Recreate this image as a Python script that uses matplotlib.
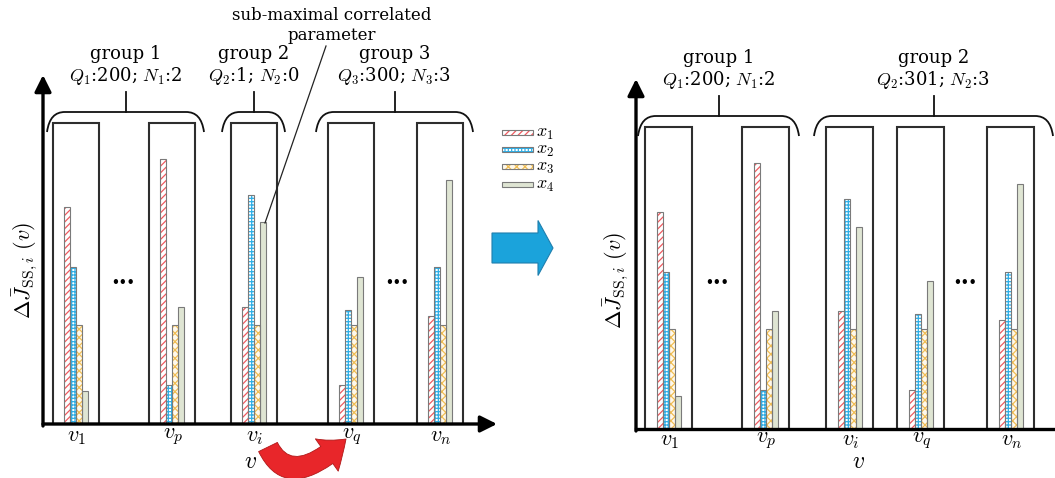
import numpy as np
import matplotlib
matplotlib.use("Agg")
import matplotlib.pyplot as plt
from matplotlib.patches import Rectangle, FancyArrowPatch, FancyArrow, PathPatch
from matplotlib.path import Path

plt.rcParams["font.family"] = ["DejaVu Serif"]
plt.rcParams["mathtext.fontset"] = "cm"
plt.rcParams["hatch.linewidth"] = 0.9

# values of the parameters x1..x4 at v_1, v_p, v_i, v_q, v_n (box height = 100)
x1 = [72, 88, 39, 13, 36]
x2 = [52, 13, 76, 38, 52]
x3 = [33, 33, 33, 33, 33]
x4 = [11, 39, 67, 49, 81]
v_labels = ["$v_1$", "$v_p$", "$v_i$", "$v_q$", "$v_n$"]
param_labels = ["$x_1$", "$x_2$", "$x_3$", "$x_4$"]

# groups before / after merging
groups_left = [("group 1", "$Q_1$:200; $N_1$:2"),
               ("group 2", "$Q_2$:1; $N_2$:0"),
               ("group 3", "$Q_3$:300; $N_3$:3")]
groups_right = [("group 1", "$Q_1$:200; $N_1$:2"),
                ("group 2", "$Q_2$:301; $N_2$:3")]

series = [x1, x2, x3, x4]
hatches = ["/////", "+++++", "xxxx", None]
hatch_cols = ["#EE5A60", "#2EAEE6", "#F0BE55", "#DFE5D3"]
faces = ["white", "white", "#FFF9EC", "#DFE5D3"]
edge_col = "#7A7A7A"

fig = plt.figure(figsize=(10.55, 4.78), dpi=100)
ax = fig.add_axes([0, 0, 1, 1])
ax.set_xlim(0, 1055)
ax.set_ylim(478, 0)
ax.axis("off")


def panel(x_axis, base, top, box_left, box_w, braces, groups, tick_y, v_x, dots):
    scale = (base - top) / 100.0
    centers = np.array(box_left) + box_w / 2.0
    # boxes
    for bl in box_left:
        ax.add_patch(Rectangle((bl, top), box_w, base - top, fill=False,
                               ec="#2E2E2E", lw=1.5, zorder=2))
    # bars
    bw = 6
    for k, vals in enumerate(series):
        xs = centers + (k - 1.5) * bw
        h = -np.array(vals) * scale
        ax.bar(xs, h, width=bw, bottom=base, color=faces[k],
               edgecolor=hatch_cols[k], hatch=hatches[k], lw=0, zorder=3)
        ax.bar(xs, h, width=bw, bottom=base, fill=False,
               edgecolor=edge_col, lw=0.8, zorder=4)
    # tick labels
    for c, lab in zip(centers, v_labels):
        ax.text(c + 1, tick_y, lab, fontsize=16, ha="center", va="center")
    ax.text(v_x, 461, "$v$", fontsize=17, ha="center", va="center")
    for d in dots:
        ax.text(d, 283, "•••", fontsize=9, fontweight="bold", ha="center", va="center")
    # braces + group text
    for (b0, b1), (g, q) in zip(braces, groups):
        yb = top - 11
        verts = [(b0, yb + 20), (b0 + 2, yb + 6), (b0 + 8, yb), (b0 + 18, yb),
                 (b1 - 18, yb), (b1 - 8, yb), (b1 - 2, yb + 6), (b1, yb + 20)]
        codes = [Path.MOVETO, Path.CURVE4, Path.CURVE4, Path.CURVE4,
                 Path.LINETO, Path.CURVE4, Path.CURVE4, Path.CURVE4]
        ax.add_patch(PathPatch(Path(verts, codes), fill=False, lw=1.3, ec="#111111"))
        mid = (b0 + b1) / 2
        ax.plot([mid, mid], [yb, yb - 20], color="#111111", lw=1.3)
        ax.text(mid, yb - 58, g, fontsize=13, ha="center", va="center")
        ax.text(mid, yb - 36, q, fontsize=13, ha="center", va="center")
    # y-axis arrow
    ax.add_patch(FancyArrowPatch((x_axis, base + 2), (x_axis, top - 48),
                                 arrowstyle="-|>,head_length=0.5,head_width=0.25",
                                 mutation_scale=20, lw=2.4, color="black",
                                 shrinkA=0, shrinkB=0, zorder=5))


# left panel
panel(43, 424, 123, [53, 149, 231, 328, 417], 46,
      [(47, 204), (222, 285), (316, 473)], groups_left, 436, 251, [123, 397])
ax.add_patch(FancyArrowPatch((43, 424), (497, 424),
                             arrowstyle="-|>,head_length=0.5,head_width=0.25",
                             mutation_scale=20, lw=2.4, color="black",
                             shrinkA=0, shrinkB=0, zorder=5))
ax.text(25, 270, r"$\Delta\bar{J}_{\mathrm{SS},i}\ (v)$", fontsize=16,
        rotation=90, ha="center", va="center")

# right panel
panel(636, 429, 127, [645, 742, 826, 897, 987], 47,
      [(638, 799), (814, 1053)], groups_right, 440, 858, [717, 965])
ax.plot([636, 1055], [429, 429], color="black", lw=2.4, zorder=5)
ax.text(616, 280, r"$\Delta\bar{J}_{\mathrm{SS},i}\ (v)$", fontsize=16,
        rotation=90, ha="center", va="center")

# annotation of the sub-maximal correlated parameter
ax.text(332, 15, "sub-maximal correlated", fontsize=12, ha="center", va="center")
ax.text(332, 35, "parameter", fontsize=12, ha="center", va="center")
ax.plot([326, 265], [46, 223], color="#222222", lw=0.9, zorder=6)

# legend
for k, y in enumerate([132, 149, 166, 184]):
    ax.add_patch(Rectangle((502, y - 2.5), 31, 5, facecolor=faces[k],
                           edgecolor=hatch_cols[k], hatch=hatches[k], lw=0))
    ax.add_patch(Rectangle((502, y - 2.5), 31, 5, fill=False,
                           edgecolor=edge_col, lw=0.8))
    ax.text(536, y + 1, param_labels[k], fontsize=13, ha="left", va="center")

# blue arrow between panels
ax.add_patch(FancyArrow(492, 248, 61, 0, width=30, head_width=55, head_length=15,
                        length_includes_head=True, fc="#1BA3DB", ec="#1F7FAE", lw=0.8))

# red curved arrow (v_i -> v_q)
red_path = Path([(268, 447), (290, 492), (346, 439)],
                [Path.MOVETO, Path.CURVE3, Path.CURVE3])
ax.add_patch(FancyArrowPatch(path=red_path,
                             arrowstyle="simple,head_length=0.6,head_width=0.95,tail_width=0.5",
                             mutation_scale=30, fc="#E8262A", ec="#B01818", lw=0.6,
                             zorder=6))

fig.savefig("out.png", dpi=100)
